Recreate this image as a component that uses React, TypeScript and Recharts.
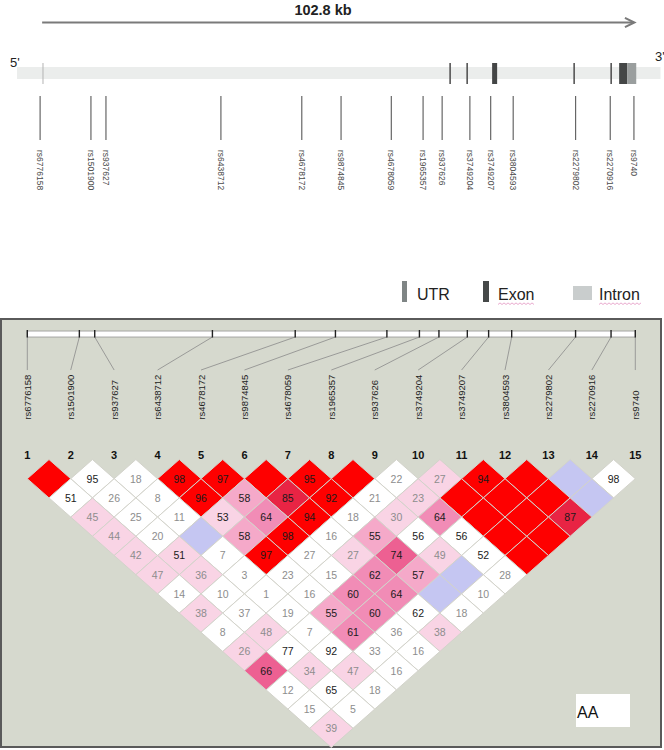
import React from 'react';
import {
  ScatterChart,
  Scatter,
  XAxis,
  YAxis,
  ReferenceArea,
  ReferenceLine,
  Customized,
} from 'recharts';

const FONT = '"Liberation Sans", Arial, sans-serif';

// markers, in gene order, with position along the 102.8 kb region
const SNP_IDS = [
  'rs6776158', 'rs1501900', 'rs937627', 'rs6438712', 'rs4678172',
  'rs9874845', 'rs4678059', 'rs1965357', 'rs937626', 'rs3749204',
  'rs3749207', 'rs3804593', 'rs2279802', 'rs2270916', 'rs9740',
];
const SNP_KB = [0, 8.8, 11.4, 31.3, 45.3, 52.1, 60.8, 66.3, 69.6, 74.4, 78.0, 81.9, 92.7, 98.7, 102.8];

// gene structure (kb)
const GENE_SPAN_KB = 102.8;
const GENE_START_KB = 0.5;
const FLANK_KB = [-4, 107.4];
const EXON_LINES_KB = [70.98, 73.93, 92.45, 98.86];
const EXON_BLOCKS_KB = [[78.25, 79.12], [100.24, 101.63]];
const UTR_KB = [101.63, 103.2];

// D' x 100 per diagonal (row 1 = adjacent markers). null = D' of 1 (no number shown)
const DPRIME: (number | null)[][] = [
  [null, 95, 18, 98, 97, null, 95, null, 22, 27, 94, null, null, 98],
  [51, 26, 8, 96, 58, 85, 92, 21, 23, null, null, null, null],
  [45, 25, 11, 53, 64, 94, 18, 30, 64, null, null, 87],
  [44, 20, null, 58, 98, 16, 55, 56, 56, null, null],
  [42, 51, 7, 97, 27, 27, 74, 49, 52, null],
  [47, 36, 3, 23, 15, 62, 57, null, 28],
  [14, 10, 1, 16, 60, 64, null, 10],
  [38, 37, 19, 55, 60, 62, 18],
  [8, 48, 7, 61, 36, 38],
  [26, 77, 92, 33, 16],
  [66, 34, 47, 16],
  [12, 65, 18],
  [15, 5],
  [39],
];

// cell shading per diagonal: W white, a-d pinks, C crimson, R red, L blue
const SHADE = [
  'RWWRRRRRWaRRLW',
  'WWWRbCRWaRRRL',
  'aWWacRWacRRC',
  'aWLbRWbWWRR',
  'aaWRWadaWR',
  'aaWWWcbLW',
  'WWWWccLW',
  'aWWbcWW',
  'WaWcWa',
  'aWWWW',
  'daaW',
  'WWW',
  'WW',
  'a',
];

const SHADE_FILL: Record<string, string> = {
  W: '#ffffff',
  a: '#f9d4e5',
  b: '#f5a9c9',
  c: '#f18cb6',
  d: '#ed6092',
  C: '#e82444',
  R: '#fe0000',
  L: '#c5c6f2',
};

const snps = SNP_IDS.map((id, idx) => ({ id, idx, kb: SNP_KB[idx], pos: idx + 1 }));
const cells = DPRIME.flatMap((row, r) =>
  row.map((v, k) => ({ pos: k + 1 + (r + 1) / 2, row: r + 1, v, shade: SHADE[r][k] }))
);

// layout
const W = 664;
const TOP_H = 318;
const TOP_MARGIN = { top: 0, right: 3.5, bottom: 0, left: 17 };
const LD_TOP = 318;
const LD_H = 432;
const LD_MARGIN = { top: 7.1, right: 28.7, bottom: 2.5, left: 27.3 };
const COL_W = (W - LD_MARGIN.left - LD_MARGIN.right) / 14;
const ROW_H = (LD_H - LD_MARGIN.top - LD_MARGIN.bottom) / 22;
const BAR_Y1 = -6.69;
const BAR_Y2 = -6.38;
const LINK_END = -4.66;
const LABEL_ROW = -2.08;

function GeneSnp(props: any) {
  const { cx, cy, payload } = props;
  return (
    <g>
      <line x1={cx} y1={cy} x2={cx} y2={cy + 44} stroke="#666" strokeWidth={1.2} />
      <text
        x={cx}
        y={cy + 54}
        transform={`rotate(90 ${cx} ${cy + 54})`}
        fontSize={8.5}
        fontFamily={FONT}
        fill="#4a4a4a"
        dominantBaseline="central"
      >
        {payload.id}
      </text>
    </g>
  );
}

function ArrowHead(props: any) {
  const { cx, cy } = props;
  return (
    <polyline
      points={`${cx - 9},${cy - 4.6} ${cx + 0.5},${cy} ${cx - 9},${cy + 4.6}`}
      fill="none"
      stroke="#7a7a7a"
      strokeWidth={2}
    />
  );
}

function squiggle(x0: number, x1: number, y: number) {
  let d = `M${x0},${y}`;
  let up = true;
  for (let x = x0 + 2; x <= x1; x += 2) {
    d += ` L${x},${up ? y - 1.6 : y}`;
    up = !up;
  }
  return d;
}

function GeneTexts() {
  return (
    <g fontFamily={FONT}>
      <text x={323} y={15} textAnchor="middle" fontSize={14.5} fontWeight="bold" fill="#222">
        102.8 kb
      </text>
      <text x={10} y={67} fontSize={13} fill="#222">5'</text>
      <text x={655} y={61} fontSize={13} fill="#222">3'</text>
      <rect x={402} y={281} width={5} height={21} fill="#7f8585" />
      <text x={417} y={300} fontSize={16} fill="#222">UTR</text>
      <rect x={483} y={281} width={6} height={21} fill="#454848" />
      <text x={498} y={300} fontSize={16} fill="#222">Exon</text>
      <path d={squiggle(498, 535, 304.5)} fill="none" stroke="#e6a0c8" strokeWidth={0.9} />
      <rect x={573} y={286} width={19} height={14} fill="#c9cdcd" />
      <text x={599} y={300} fontSize={16} fill="#222">Intron</text>
      <path d={squiggle(599, 641, 304.5)} fill="none" stroke="#e6a0c8" strokeWidth={0.9} />
    </g>
  );
}

function Diamond(props: any) {
  const { cx, cy, payload } = props;
  const hw = COL_W / 2;
  const hh = ROW_H;
  return (
    <g>
      <polygon
        points={`${cx},${cy - hh} ${cx + hw},${cy} ${cx},${cy + hh} ${cx - hw},${cy}`}
        fill={SHADE_FILL[payload.shade]}
        stroke="#d3d3cb"
        strokeWidth={1}
      />
      {payload.v != null && (
        <text
          x={cx}
          y={cy + 3.8}
          textAnchor="middle"
          fontSize={10.5}
          fontFamily={FONT}
          fill={payload.v >= 50 ? '#1a1a1a' : '#8d8d8d'}
        >
          {payload.v}
        </text>
      )}
    </g>
  );
}

function BarTick(props: any) {
  const { cx, cy, payload } = props;
  const tx = LD_MARGIN.left + payload.idx * COL_W;
  const ty = cy + (LINK_END - BAR_Y2) * ROW_H;
  return (
    <g>
      <line x1={cx} y1={cy} x2={tx} y2={ty} stroke="#8a8a8a" strokeWidth={0.8} />
      <line x1={cx} y1={cy - 7} x2={cx} y2={cy + 0.5} stroke="#222" strokeWidth={1.4} />
    </g>
  );
}

function MarkerLabel(props: any) {
  const { cx, cy, payload } = props;
  return (
    <text
      x={cx}
      y={cy}
      transform={`rotate(-90 ${cx} ${cy})`}
      fontSize={9.5}
      fontFamily={FONT}
      fill="#222"
      dominantBaseline="central"
    >
      {payload.id}
    </text>
  );
}

function MarkerNumber(props: any) {
  const { cx, cy, payload } = props;
  return (
    <text x={cx} y={cy - 0.5} textAnchor="middle" fontSize={11} fontWeight="bold" fontFamily={FONT} fill="#111">
      {payload.pos}
    </text>
  );
}

function AaBox() {
  return (
    <g fontFamily={FONT}>
      <rect x={576} y={694 - LD_TOP} width={54} height={33} fill="#fff" />
      <text x={577} y={718 - LD_TOP} fontSize={16} fill="#111">AA</text>
    </g>
  );
}

export default function App() {
  return (
    <div style={{ position: 'absolute', left: 0, top: 0, width: W, height: 750, background: '#fff', overflow: 'hidden' }}>
      <div style={{ position: 'absolute', left: 0, top: 0 }}>
        <ScatterChart width={W} height={TOP_H} margin={TOP_MARGIN}>
          <XAxis type="number" dataKey="kb" domain={FLANK_KB} hide />
          <YAxis type="number" dataKey="py" domain={[0, TOP_H]} reversed hide />
          <ReferenceArea x1={FLANK_KB[0]} x2={FLANK_KB[1]} y1={67} y2={79} fill="#ebedec" fillOpacity={1} stroke="none" />
          <ReferenceLine
            segment={[{ x: GENE_START_KB, y: 63 }, { x: GENE_START_KB, y: 84 }]}
            stroke="#b3b3b3"
            strokeWidth={1}
          />
          {EXON_LINES_KB.map((kb) => (
            <ReferenceLine key={kb} segment={[{ x: kb, y: 63 }, { x: kb, y: 84 }]} stroke="#555" strokeWidth={1.6} />
          ))}
          {EXON_BLOCKS_KB.map(([a, b]) => (
            <ReferenceArea key={a} x1={a} x2={b} y1={63} y2={84} fill="#444646" fillOpacity={1} stroke="none" />
          ))}
          <ReferenceArea x1={UTR_KB[0]} x2={UTR_KB[1]} y1={63} y2={84} fill="#9a9e9e" fillOpacity={1} stroke="none" />
          <ReferenceLine
            segment={[{ x: 0.35, y: 22.5 }, { x: GENE_SPAN_KB, y: 22.5 }]}
            stroke="#7a7a7a"
            strokeWidth={2.2}
          />
          <Scatter data={[{ kb: GENE_SPAN_KB, py: 22.5 }]} shape={ArrowHead} isAnimationActive={false} />
          <Scatter data={snps.map((s) => ({ ...s, py: 96 }))} shape={GeneSnp} isAnimationActive={false} />
          <Customized component={GeneTexts} />
        </ScatterChart>
      </div>

      <div
        style={{
          position: 'absolute',
          left: 0,
          top: LD_TOP,
          width: 662,
          height: 430,
          boxSizing: 'border-box',
          border: '2px solid #5a5a5a',
          background: '#d6d9ce',
        }}
      />

      <div style={{ position: 'absolute', left: 0, top: LD_TOP }}>
        <ScatterChart width={W} height={LD_H} margin={LD_MARGIN}>
          <XAxis xAxisId="m" type="number" dataKey="pos" domain={[1, 15]} hide />
          <XAxis xAxisId="kb" type="number" dataKey="kb" domain={[0, GENE_SPAN_KB]} hide />
          <YAxis type="number" dataKey="row" domain={[-7, 15]} reversed hide />
          <ReferenceArea
            xAxisId="kb"
            x1={0}
            x2={GENE_SPAN_KB}
            y1={BAR_Y1}
            y2={BAR_Y2}
            fill="#ffffff"
            fillOpacity={1}
            stroke="#8a8a8a"
            strokeWidth={0.7}
          />
          <Scatter
            xAxisId="kb"
            data={snps.map((s) => ({ ...s, row: BAR_Y2 }))}
            shape={BarTick}
            isAnimationActive={false}
          />
          <Scatter
            xAxisId="m"
            data={snps.map((s) => ({ ...s, row: LABEL_ROW }))}
            shape={MarkerLabel}
            isAnimationActive={false}
          />
          <Scatter
            xAxisId="m"
            data={snps.map((s) => ({ ...s, row: 0 }))}
            shape={MarkerNumber}
            isAnimationActive={false}
          />
          <Scatter xAxisId="m" data={cells} shape={Diamond} isAnimationActive={false} />
          <Customized component={AaBox} />
        </ScatterChart>
      </div>
    </div>
  );
}
